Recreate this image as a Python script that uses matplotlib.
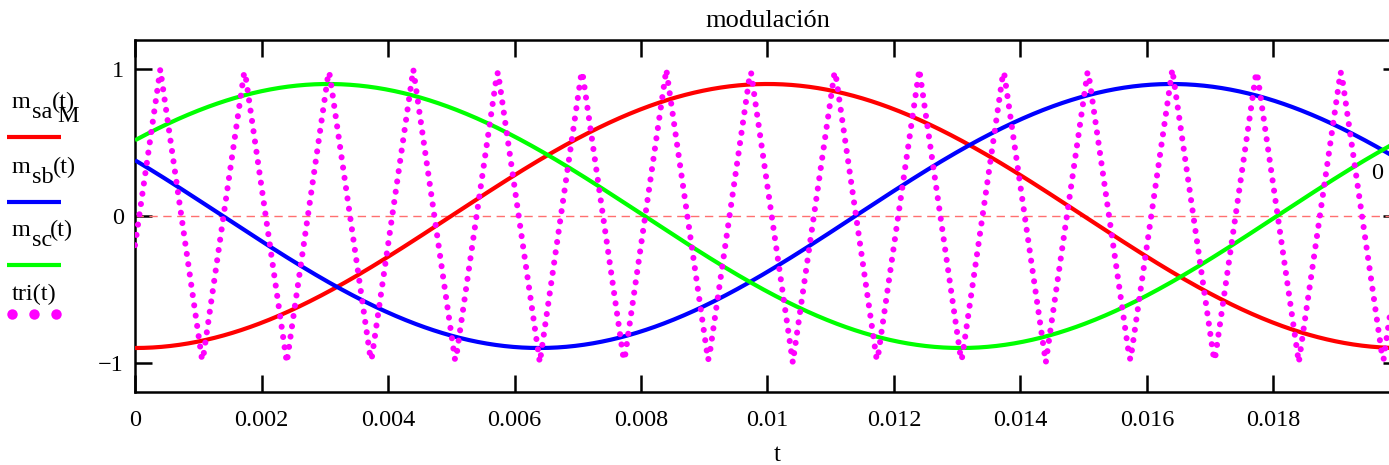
import numpy as np
import matplotlib
matplotlib.use("Agg")
import matplotlib.pyplot as plt
from matplotlib.lines import Line2D

plt.rcParams["font.family"] = ["Liberation Serif", "DejaVu Serif"]

# ---------------- datos ----------------
M = 0.9                       # indice de modulacion
f_mod = 50.0                  # frecuencia de la moduladora (Hz)
fases_grados = [0.0, 115.0, 235.0]   # fase de m_sa, m_sb, m_sc
f_tri = 750.0                 # frecuencia de la portadora triangular (Hz)
t_valle_tri = -0.000267       # instante de un valle de la triangular
t_fin = 0.02
n_puntos = 1001

x_ticks = [0, 0.002, 0.004, 0.006, 0.008, 0.01, 0.012, 0.014, 0.016, 0.018]
x_tick_labels = ["0", "0.002", "0.004", "0.006", "0.008", "0.01",
                 "0.012", "0.014", "0.016", "0.018"]
y_ticks = [-1, 0, 1]
y_tick_labels = ["\u22121", "0", "1"]

colores = ["#ff0000", "#0000ff", "#00ff00"]
subindices = ["sa", "sb", "sc"]

# ---------------- señales ----------------
t = np.linspace(0, t_fin, n_puntos)
w = 2 * np.pi * f_mod
moduladoras = [-M * np.cos(w * t - np.radians(ph)) for ph in fases_grados]

T_tri = 1.0 / f_tri
k = np.arange(0, int(t_fin / (T_tri / 2)) + 4)
vert_t = t_valle_tri + k * T_tri / 2
vert_v = np.where(k % 2 == 0, -1.0, 1.0)
tri = np.interp(t, vert_t, vert_v)

# ---------------- figura ----------------
W, H = 1389, 465
fig = plt.figure(figsize=(W / 100, H / 100), dpi=100)


def px(x, y):
    return x / W, 1 - y / H


ax = fig.add_axes([135 / W, 1 - 392 / H, (1400 - 135) / W, (392 - 40) / H])

for m, c in zip(moduladoras, colores):
    ax.plot(t, m, color=c, lw=3.0, solid_capstyle="butt", zorder=3)

ax.plot(t, tri, color="#ff00ff", lw=4.4, ls=(0, (0.001, 1.7)),
        dash_capstyle="round", zorder=4)

ax.axhline(0, color="#ff7070", lw=1.0, ls=(0, (6, 4)), zorder=2)

ax.set_xlim(0, t_fin)
ax.set_ylim(-1.2, 1.2)
ax.set_xticks(x_ticks)
ax.set_xticklabels(x_tick_labels)
ax.set_yticks(y_ticks)
ax.set_yticklabels(y_tick_labels)
ax.tick_params(direction="in", length=12, width=1.8, labelsize=17.5,
               top=True, right=True)
ax.tick_params(axis="x", pad=13)
ax.tick_params(axis="y", pad=8)
for s in ax.spines.values():
    s.set_linewidth(1.8)

fig.text(*px(768, 27), "modulación", fontsize=19, ha="center", va="baseline")
fig.text(*px(777, 461), "t", fontsize=18, ha="center", va="baseline")
fig.text(*px(1377, 179), "0", fontsize=17.5, ha="center", va="baseline")

# leyenda a la izquierda: m, subindice bajado y (t)
bases = [108, 173, 236]
lineas_y = [137.5, 201.5, 265.5]
x_parent = [52, 53, 50]
for sub, c, yb, yl, xp in zip(subindices, colores, bases, lineas_y, x_parent):
    fig.text(*px(12, yb), "m", fontsize=17.5, ha="left", va="baseline")
    fig.text(*px(32, yb + 10), sub, fontsize=17.5, ha="left", va="baseline")
    fig.text(*px(xp, yb), "(t)", fontsize=17.5, ha="left", va="baseline")
    x0, y0 = px(7, yl)
    x1, _ = px(61, yl)
    fig.add_artist(Line2D([x0, x1], [y0, y0], color=c, lw=3.0,
                          solid_capstyle="butt"))
fig.text(*px(57, 122), "M", fontsize=17.5, ha="left", va="baseline")

fig.text(*px(12, 300), "tri(t)", fontsize=17.5, ha="left", va="baseline")
xs = [px(x, 314)[0] for x in (12, 34, 56)]
fig.add_artist(Line2D(xs, [px(0, 314)[1]] * 3, ls="none", marker="o",
                      ms=7.5, color="#ff00ff", mec="none"))

fig.savefig("out.png", dpi=100)
